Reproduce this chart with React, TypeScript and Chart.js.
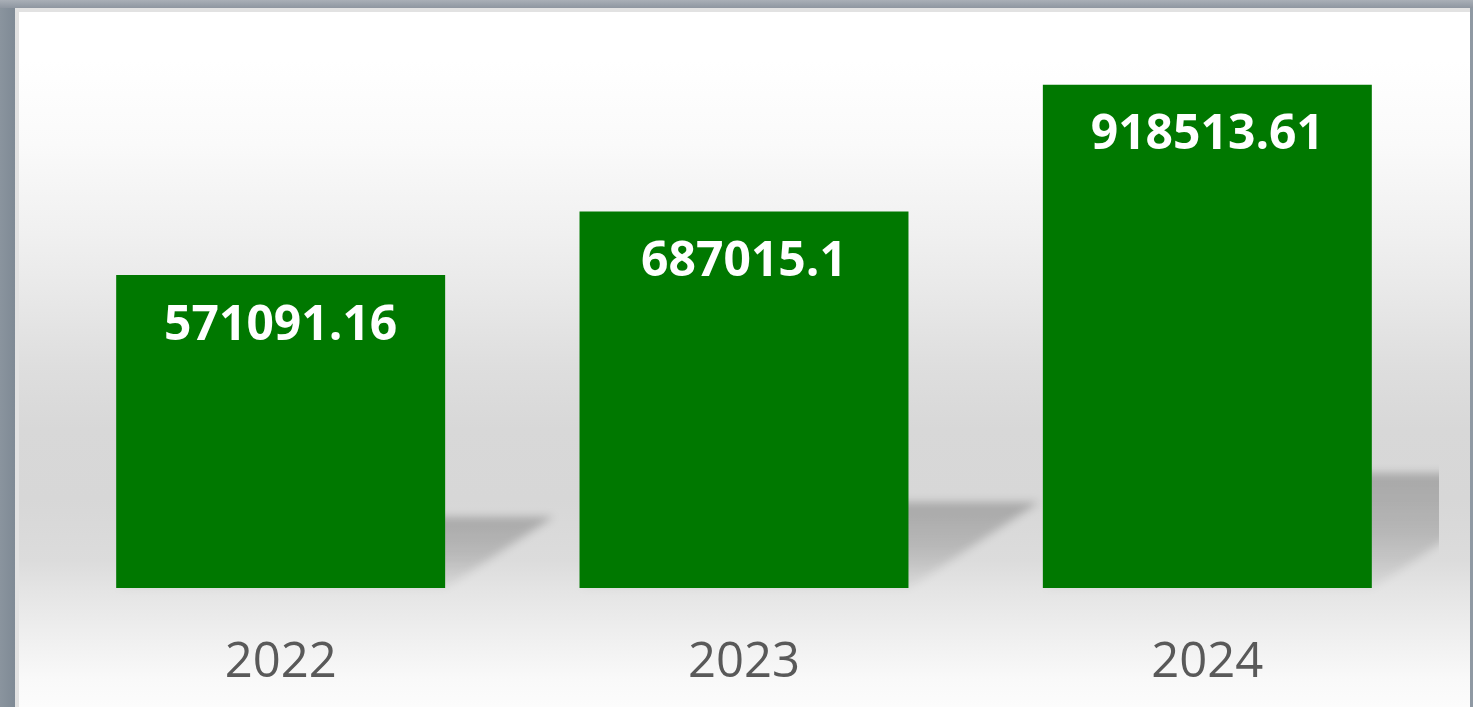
import React, { useEffect, useRef } from "react";
import { Chart, registerables } from "chart.js";

Chart.register(...registerables);

const categories: string[] = ["2022", "2023", "2024"];
const values: number[] = [571091.16, 687015.1, 918513.61];
const valueLabels: string[] = ["571091.16", "687015.1", "918513.61"];
const yMax = 1000000;

const shadowPlugin = {
  id: "perspectiveShadow",
  beforeDatasetsDraw(chart: any) {
    const ctx = chart.ctx;
    const area = chart.chartArea;
    const meta = chart.getDatasetMeta(0);
    ctx.save();
    ctx.beginPath();
    ctx.rect(area.left, 0, area.right - area.left, chart.height);
    ctx.clip();
    meta.data.forEach((bar: any) => {
      const p = bar.getProps(["x", "y", "base", "width"], true);
      const left = p.x - p.width / 2;
      const right = p.x + p.width / 2;
      const h = (p.base - p.y) * 0.228;
      const top = p.base - h;
      const dx = h * 1.52;
      const g = ctx.createLinearGradient(0, top, 0, p.base);
      g.addColorStop(0, "rgba(0,0,0,0.22)");
      g.addColorStop(0.5, "rgba(0,0,0,0.16)");
      g.addColorStop(1, "rgba(0,0,0,0.04)");
      ctx.save();
      ctx.filter = "blur(4px)";
      ctx.fillStyle = g;
      ctx.beginPath();
      ctx.moveTo(left + dx, top);
      ctx.lineTo(right + dx, top);
      ctx.lineTo(right, p.base);
      ctx.lineTo(left, p.base);
      ctx.closePath();
      ctx.fill();
      ctx.restore();
    });
    ctx.restore();
  },
};

const labelPlugin = {
  id: "innerLabels",
  afterDatasetsDraw(chart: any) {
    const ctx = chart.ctx;
    const meta = chart.getDatasetMeta(0);
    ctx.save();
    ctx.fillStyle = "#ffffff";
    ctx.font = "bold 48px 'Open Sans'";
    ctx.textAlign = "center";
    ctx.textBaseline = "middle";
    meta.data.forEach((bar: any, i: number) => {
      const p = bar.getProps(["x", "y"], true);
      ctx.fillText(valueLabels[i], p.x, p.y + 51);
    });
    ctx.restore();
  },
};

export default function App() {
  const ref = useRef<HTMLCanvasElement | null>(null);

  useEffect(() => {
    if (!ref.current) return;
    const chart = new Chart(ref.current, {
      type: "bar",
      data: {
        labels: categories,
        datasets: [
          {
            data: values,
            backgroundColor: "#007800",
            borderWidth: 0,
            barPercentage: 0.71,
            categoryPercentage: 1,
          },
        ],
      },
      options: {
        responsive: false,
        animation: false,
        layout: { padding: { left: 30, right: 31, top: 28, bottom: 16 } },
        plugins: {
          legend: { display: false },
          tooltip: { enabled: false },
        },
        scales: {
          x: {
            grid: { display: false, drawTicks: false },
            border: { display: false },
            ticks: {
              color: "#595959",
              font: { family: "'Open Sans'", size: 49 },
              padding: 46,
            },
            afterFit: (scale: any) => {
              scale.height = 103;
            },
          },
          y: {
            display: false,
            min: 0,
            max: yMax,
          },
        },
      },
      plugins: [shadowPlugin, labelPlugin],
    });
    return () => chart.destroy();
  }, []);

  return (
    <div
      style={{
        position: "fixed",
        left: 0,
        top: 0,
        width: 1473,
        height: 707,
        background: "linear-gradient(90deg, #8a949e 0px, #7f8a95 15px, #8f99a3 100%)",
        overflow: "hidden",
      }}
    >
      <div
        style={{
          position: "absolute",
          left: 0,
          top: 0,
          width: 1473,
          height: 8,
          background: "linear-gradient(180deg, #a9afb7, #8e96a0)",
        }}
      />
      <div
        style={{
          position: "absolute",
          left: 15,
          top: 8,
          width: 1451,
          height: 695,
          borderLeft: "4px solid #e2e2e2",
          borderTop: "4px solid #e2e2e2",
          background:
            "linear-gradient(180deg, #ffffff 0%, #ffffff 7%, #fafafa 19%, #f0f0f0 32%, #e8e8e8 41%, #dedede 51%, #d8d8d8 60%, #d7d7d7 70%, #dcdcdc 79%, #e4e4e4 83%, #eeeeee 89%, #f9f9f9 96%, #fcfcfc 100%)",
        }}
      >
        <canvas ref={ref} width={1451} height={695} style={{ display: "block", width: 1451, height: 695 }} />
      </div>
    </div>
  );
}
